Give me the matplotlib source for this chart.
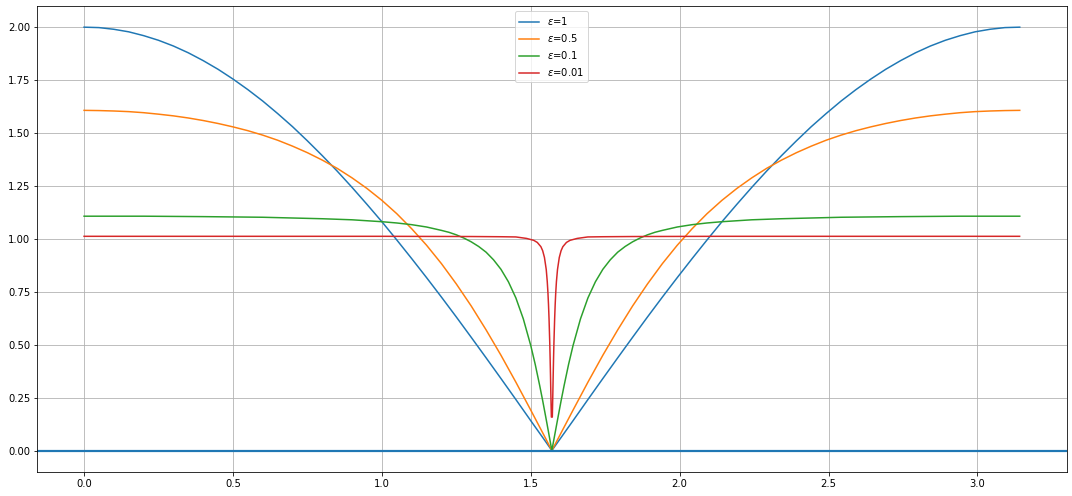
import matplotlib
matplotlib.use("Agg")
import matplotlib.pyplot as plt

# ---- data ----
labels = [r"$\epsilon$=1", r"$\epsilon$=0.5", r"$\epsilon$=0.1", r"$\epsilon$=0.01"]

x_smooth = [0.0, 0.05, 0.1, 0.15, 0.2, 0.25, 0.3, 0.35, 0.4, 0.45, 0.5, 0.55,
            0.6, 0.65, 0.7, 0.75, 0.8, 0.85, 0.9, 0.95, 1.0, 1.05, 1.1, 1.15,
            1.2, 1.25, 1.3, 1.35, 1.4, 1.45, 1.5, 1.55, 1.5708,
            1.592, 1.642, 1.692, 1.742, 1.792, 1.842, 1.892, 1.942, 1.992,
            2.042, 2.092, 2.142, 2.192, 2.242, 2.292, 2.342, 2.392, 2.442,
            2.492, 2.542, 2.592, 2.642, 2.692, 2.742, 2.792, 2.842, 2.892,
            2.942, 2.992, 3.042, 3.092, 3.142]

y_eps1 = [2.000, 1.998, 1.990, 1.978, 1.960, 1.938, 1.911, 1.879, 1.842, 1.801,
          1.755, 1.705, 1.651, 1.592, 1.530, 1.463, 1.393, 1.320, 1.243, 1.163,
          1.081, 0.995, 0.907, 0.817, 0.725, 0.631, 0.535, 0.438, 0.340, 0.241,
          0.141, 0.042, 0.000,
          0.042, 0.141, 0.241, 0.340, 0.438, 0.535, 0.631, 0.725, 0.817, 0.907,
          0.995, 1.081, 1.163, 1.243, 1.320, 1.393, 1.463, 1.530, 1.592, 1.651,
          1.705, 1.755, 1.801, 1.842, 1.879, 1.911, 1.938, 1.960, 1.978, 1.990,
          1.998, 2.000]

y_eps05 = [1.607, 1.606, 1.604, 1.601, 1.596, 1.589, 1.581, 1.571, 1.559, 1.545,
           1.529, 1.511, 1.490, 1.466, 1.438, 1.407, 1.372, 1.333, 1.288, 1.238,
           1.182, 1.119, 1.048, 0.970, 0.883, 0.787, 0.683, 0.570, 0.450, 0.323,
           0.191, 0.057, 0.000,
           0.057, 0.191, 0.323, 0.450, 0.570, 0.683, 0.787, 0.883, 0.970, 1.048,
           1.119, 1.182, 1.238, 1.288, 1.333, 1.372, 1.407, 1.438, 1.466, 1.490,
           1.511, 1.529, 1.545, 1.559, 1.571, 1.581, 1.589, 1.596, 1.601, 1.604,
           1.606, 1.607]

x_eps01 = [0.0, 0.2, 0.4, 0.6, 0.8, 0.9, 1.0, 1.05, 1.1, 1.15, 1.2, 1.225, 1.25,
           1.275, 1.3, 1.325, 1.35, 1.375, 1.4, 1.425, 1.45, 1.475, 1.5, 1.515,
           1.53, 1.54, 1.55, 1.555, 1.5708,
           1.587, 1.592, 1.602, 1.612, 1.627, 1.642, 1.667, 1.692, 1.717, 1.742,
           1.767, 1.792, 1.817, 1.842, 1.867, 1.892, 1.917, 1.942, 1.992, 2.042,
           2.092, 2.142, 2.242, 2.342, 2.542, 2.742, 2.942, 3.142]
y_eps01 = [1.107, 1.107, 1.105, 1.102, 1.095, 1.090, 1.081, 1.075, 1.067, 1.056,
           1.040, 1.031, 1.019, 1.004, 0.986, 0.964, 0.937, 0.901, 0.856, 0.797,
           0.721, 0.622, 0.496, 0.407, 0.307, 0.236, 0.161, 0.123, 0.000,
           0.123, 0.161, 0.236, 0.307, 0.407, 0.496, 0.622, 0.721, 0.797, 0.856,
           0.901, 0.937, 0.964, 0.986, 1.004, 1.019, 1.031, 1.040, 1.056, 1.067,
           1.075, 1.081, 1.090, 1.095, 1.102, 1.105, 1.107, 1.107]

x_eps001 = [0.0, 0.5, 1.0, 1.3, 1.4, 1.45, 1.486, 1.510, 1.522, 1.534, 1.540,
            1.546, 1.552, 1.5554, 1.5578, 1.5596, 1.5614, 1.5638, 1.5650,
            1.5662, 1.5674, 1.5692,
            1.5724, 1.5742, 1.5754, 1.5766, 1.5778, 1.5802, 1.5820, 1.5838,
            1.5862, 1.5898, 1.5958, 1.6018, 1.6078, 1.6198, 1.6318, 1.6558,
            1.6916, 1.7416, 1.8416, 2.1416, 2.6416, 3.1416]
y_eps001 = [1.012, 1.012, 1.012, 1.011, 1.010, 1.009, 1.002, 0.993, 0.983, 0.963,
            0.944, 0.912, 0.855, 0.798, 0.743, 0.689, 0.622, 0.508, 0.438, 0.360,
            0.273, 0.158,
            0.158, 0.273, 0.360, 0.438, 0.508, 0.622, 0.689, 0.743, 0.798, 0.855,
            0.912, 0.944, 0.963, 0.983, 0.993, 1.002, 1.009, 1.010, 1.011, 1.012,
            1.012, 1.012]

series_x = [x_smooth, x_smooth, x_eps01, x_eps001]
series_y = [y_eps1, y_eps05, y_eps01, y_eps001]

# ---- figure ----
W, H = 1072, 496
fig = plt.figure(figsize=(W / 72, H / 72), dpi=72)
ax = fig.add_axes([37.3 / W, 1 - 471.7 / H, (1066.5 - 37.3) / W, (471.7 - 6) / H])

for xs, ys, lab in zip(series_x, series_y, labels):
    ax.plot(xs, ys, label=lab, lw=1.5)

ax.axhline(0, color="#1f77b4", lw=2.2)
ax.set_xlim(-0.157, 3.299)
ax.set_ylim(-0.1, 2.1)
ax.grid(True)
ax.legend(loc="upper center")

fig.savefig("out.png", dpi=72)
